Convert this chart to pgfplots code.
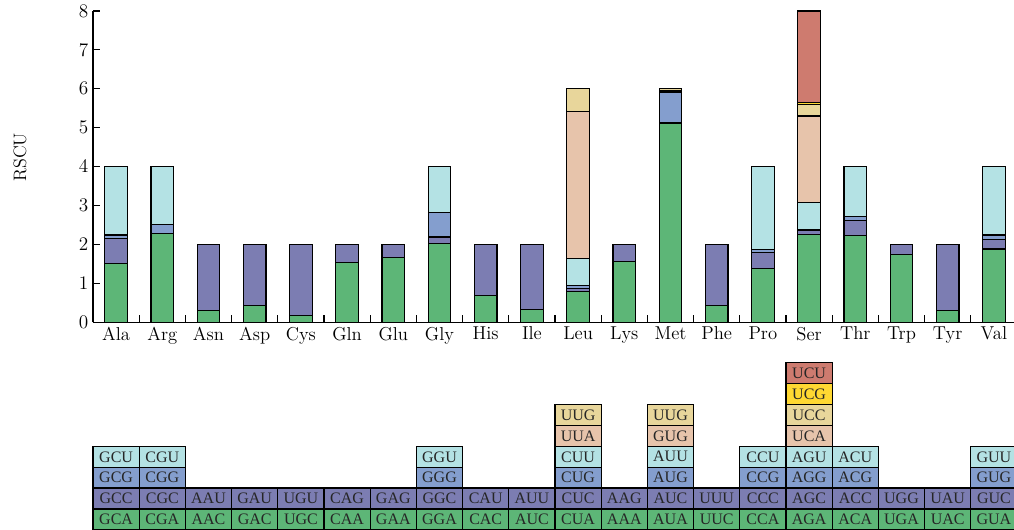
\documentclass[border=0pt]{standalone}
\usepackage{pgfplots}
\pgfplotsset{compat=1.18}
\usepackage{pgfplotstable}
\usepackage{fontspec}
\newfontfamily\tabfont{Liberation Serif}

\definecolor{c1}{RGB}{93,182,119}
\definecolor{c2}{RGB}{124,125,178}
\definecolor{c3}{RGB}{132,158,206}
\definecolor{c4}{RGB}{180,226,228}
\definecolor{c5}{RGB}{231,196,171}
\definecolor{c6}{RGB}{232,214,155}
\definecolor{c7}{RGB}{255,216,50}
\definecolor{c8}{RGB}{206,123,111}

\pgfplotstableread{
x a b c d e f g h
0 1.52 0.64 0.08 1.76 0 0 0 0
1 2.29 0.00 0.23 1.48 0 0 0 0
2 0.30 1.70 0 0 0 0 0 0
3 0.43 1.57 0 0 0 0 0 0
4 0.17 1.83 0 0 0 0 0 0
5 1.53 0.47 0 0 0 0 0 0
6 1.66 0.34 0 0 0 0 0 0
7 2.03 0.16 0.64 1.17 0 0 0 0
8 0.68 1.32 0 0 0 0 0 0
9 0.32 1.68 0 0 0 0 0 0
10 0.79 0.07 0.08 0.69 3.78 0.59 0 0
11 1.56 0.44 0 0 0 0 0 0
12 5.12 0.00 0.79 0.02 0.02 0.05 0 0
13 0.43 1.57 0 0 0 0 0 0
14 1.39 0.41 0.06 2.14 0 0 0 0
15 2.26 0.09 0.02 0.71 2.22 0.29 0.06 2.35
16 2.22 0.40 0.09 1.29 0 0 0 0
17 1.75 0.25 0 0 0 0 0 0
18 0.30 1.70 0 0 0 0 0 0
19 1.88 0.24 0.12 1.76 0 0 0 0
}\rscu

\pgfplotstableread{
x y lab
0 0.5 GCA
0 1.5 GCC
0 2.5 GCG
0 3.5 GCU
1 0.5 CGA
1 1.5 CGC
1 2.5 CGG
1 3.5 CGU
2 0.5 AAC
2 1.5 AAU
3 0.5 GAC
3 1.5 GAU
4 0.5 UGC
4 1.5 UGU
5 0.5 CAA
5 1.5 CAG
6 0.5 GAA
6 1.5 GAG
7 0.5 GGA
7 1.5 GGC
7 2.5 GGG
7 3.5 GGU
8 0.5 CAC
8 1.5 CAU
9 0.5 AUC
9 1.5 AUU
10 0.5 CUA
10 1.5 CUC
10 2.5 CUG
10 3.5 CUU
10 4.5 UUA
10 5.5 UUG
11 0.5 AAA
11 1.5 AAG
12 0.5 AUA
12 1.5 AUC
12 2.5 AUG
12 3.5 AUU
12 4.5 GUG
12 5.5 UUG
13 0.5 UUC
13 1.5 UUU
14 0.5 CCA
14 1.5 CCC
14 2.5 CCG
14 3.5 CCU
15 0.5 AGA
15 1.5 AGC
15 2.5 AGG
15 3.5 AGU
15 4.5 UCA
15 5.5 UCC
15 6.5 UCG
15 7.5 UCU
16 0.5 ACA
16 1.5 ACC
16 2.5 ACG
16 3.5 ACU
17 0.5 UGA
17 1.5 UGG
18 0.5 UAC
18 1.5 UAU
19 0.5 GUA
19 1.5 GUC
19 2.5 GUG
19 3.5 GUU
}\codons

\begin{document}
\begin{tikzpicture}
\useasboundingbox (0pt,0pt) rectangle (760.5pt,397.5pt);
\begin{axis}[
  at={(69.75pt,155.8pt)}, anchor=south west,
  scale only axis, width=693pt, height=233.5pt,
  ybar stacked, bar width=0.49,
  xmin=-0.5, xmax=19.5, ymin=0, ymax=8,
  axis x line*=bottom, axis y line*=left,
  axis line style={line width=1pt},
  tick align=inside,
  tick style={black, line width=0.9pt},
  major tick length=5.5pt,
  ytick={0,...,8},
  yticklabel style={font=\fontsize{14}{16}\selectfont},
  xtick={0.5,1.5,...,19.5},
  xticklabels={,,},
  extra x ticks={0,...,19},
  extra x tick labels={Ala,Arg,Asn,Asp,Cys,Gln,Glu,Gly,His,Ile,Leu,Lys,Met,Phe,Pro,Ser,Thr,Trp,Tyr,Val},
  extra x tick style={major tick length=0pt, xticklabel style={font=\fontsize{14}{16}\selectfont}},
  ylabel={RSCU},
  ylabel style={at={(axis description cs:-0.079,0.53)}, anchor=center, font=\fontsize{13.5}{16}\selectfont},
  every axis plot/.append style={draw=black, line width=0.9pt},
]
\addplot[fill=c1] table[x=x,y=a]{\rscu};
\addplot[fill=c2] table[x=x,y=b]{\rscu};
\addplot[fill=c3] table[x=x,y=c]{\rscu};
\addplot[fill=c4] table[x=x,y=d]{\rscu};
\addplot[fill=c5] table[x=x,y=e]{\rscu};
\addplot[fill=c6] table[x=x,y=f]{\rscu};
\addplot[fill=c7] table[x=x,y=g]{\rscu};
\addplot[fill=c8] table[x=x,y=h]{\rscu};
\end{axis}

\begin{axis}[
  at={(69.75pt,0pt)}, anchor=south west,
  scale only axis, width=693pt, height=125.5pt,
  xmin=-0.5, xmax=19.5, ymin=0, ymax=8,
  hide axis, clip=false,
]
\addplot[ybar, bar width=1, bar shift=0pt, fill=c8, draw=black, line width=1pt] coordinates {(15,8)};
\addplot[ybar, bar width=1, bar shift=0pt, fill=c7, draw=black, line width=1pt] coordinates {(15,7)};
\addplot[ybar, bar width=1, bar shift=0pt, fill=c6, draw=black, line width=1pt] coordinates {(10,6) (12,6) (15,6)};
\addplot[ybar, bar width=1, bar shift=0pt, fill=c5, draw=black, line width=1pt] coordinates {(10,5) (12,5) (15,5)};
\addplot[ybar, bar width=1, bar shift=0pt, fill=c4, draw=black, line width=1pt] coordinates {(0,4) (1,4) (7,4) (10,4) (12,4) (14,4) (15,4) (16,4) (19,4)};
\addplot[ybar, bar width=1, bar shift=0pt, fill=c3, draw=black, line width=1pt] coordinates {(0,3) (1,3) (7,3) (10,3) (12,3) (14,3) (15,3) (16,3) (19,3)};
\addplot[ybar, bar width=1, bar shift=0pt, fill=c2, draw=black, line width=1pt] coordinates {(0,2) (1,2) (2,2) (3,2) (4,2) (5,2) (6,2) (7,2) (8,2) (9,2) (10,2) (11,2) (12,2) (13,2) (14,2) (15,2) (16,2) (17,2) (18,2) (19,2)};
\addplot[ybar, bar width=1, bar shift=0pt, fill=c1, draw=black, line width=1pt] coordinates {(0,1) (1,1) (2,1) (3,1) (4,1) (5,1) (6,1) (7,1) (8,1) (9,1) (10,1) (11,1) (12,1) (13,1) (14,1) (15,1) (16,1) (17,1) (18,1) (19,1)};
\addplot[draw=none, mark=none, nodes near coords, point meta=explicit symbolic,
  nodes near coords style={anchor=center, font=\tabfont\fontsize{12}{13}\selectfont, text=black!85}]
  table[x=x, y=y, meta=lab]{\codons};
\end{axis}
\end{tikzpicture}
\end{document}
